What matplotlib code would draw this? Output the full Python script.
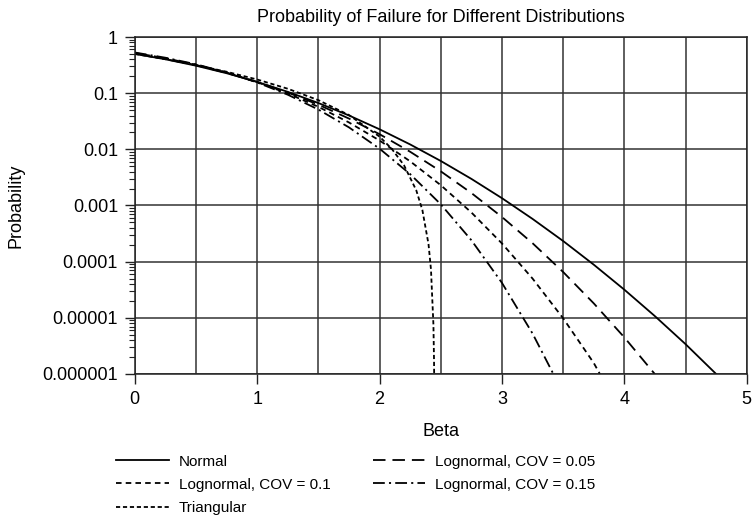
import matplotlib
matplotlib.use("Agg")
import matplotlib.pyplot as plt
from matplotlib.ticker import LogLocator, NullFormatter

plt.rcParams['font.family'] = ['Liberation Sans', 'DejaVu Sans']
plt.rcParams['font.size'] = 13
plt.rcParams['lines.scale_dashes'] = False

# Values (beta vs probability of failure)
beta_normal = [0, 0.25, 0.5, 0.75, 1.0, 1.25, 1.5, 1.75, 2.0, 2.25, 2.5, 2.75,
               3.0, 3.25, 3.5, 3.75, 4.0, 4.25, 4.5, 4.75]
p_normal = [0.5, 0.4013, 0.3085, 0.2266, 0.1587, 0.1056, 0.0668, 0.0401, 0.02275,
            0.01222, 0.00621, 0.00298, 0.00135, 5.77e-4, 2.33e-4, 8.84e-5,
            3.17e-5, 1.07e-5, 3.40e-6, 1.0e-6]

beta_ln05 = [0, 0.25, 0.5, 0.75, 1.0, 1.25, 1.5, 1.75, 2.0, 2.25, 2.5, 2.75,
             3.0, 3.25, 3.5, 3.75, 4.0, 4.25]
p_ln05 = [0.510, 0.4103, 0.3150, 0.2297, 0.1583, 0.1027, 0.0624, 0.0353, 0.0186,
          0.00905, 0.00406, 0.00167, 6.24e-4, 2.13e-4, 6.54e-5, 1.81e-5,
          4.48e-6, 9.9e-7]

beta_ln10 = [0, 0.25, 0.5, 0.75, 1.0, 1.25, 1.5, 1.75, 2.0, 2.25, 2.5, 2.75,
             3.0, 3.25, 3.5, 3.75, 3.8]
p_ln10 = [0.520, 0.4192, 0.3212, 0.2322, 0.1571, 0.0987, 0.0571, 0.0301, 0.01437,
          0.00612, 0.00230, 7.52e-4, 2.11e-4, 5.0e-5, 9.8e-6, 1.57e-6, 1.0e-6]

beta_ln15 = [0, 0.25, 0.5, 0.75, 1.0, 1.25, 1.5, 1.75, 2.0, 2.25, 2.5, 2.75,
             3.0, 3.25, 3.42]
p_ln15 = [0.530, 0.4279, 0.3270, 0.2341, 0.1551, 0.0939, 0.0511, 0.0246, 0.01027,
          0.00362, 0.00105, 2.41e-4, 4.19e-5, 5.25e-6, 1.0e-6]

beta_tri = [0, 0.25, 0.5, 0.75, 1.0, 1.25, 1.5, 1.75, 2.0, 2.1, 2.2, 2.3, 2.35,
            2.4, 2.42, 2.44, 2.445, 2.4475]
p_tri = [0.5, 0.4031, 0.3167, 0.2407, 0.1751, 0.1199, 0.0751, 0.0408, 0.01684,
         0.01018, 0.00519, 0.00186, 8.25e-4, 2.04e-4, 7.26e-5, 7.5e-6, 1.7e-6,
         3.4e-7]

y_ticks = [1, 0.1, 0.01, 0.001, 0.0001, 0.00001, 0.000001]
y_labels = ['1', '0.1', '0.01', '0.001', '0.0001', '0.00001', '0.000001']
x_ticks = [0, 1, 2, 3, 4, 5]

fig = plt.figure(figsize=(7.53, 5.19), dpi=100)
ax = fig.add_axes([0.179, 0.2794, 0.8127, 0.6493])

lw = 1.3
h_norm, = ax.plot(beta_normal, p_normal, color='black', lw=lw, label='Normal')
h_ln05, = ax.plot(beta_ln05, p_ln05, color='black', lw=lw, dashes=(9, 5),
                  label='Lognormal, COV = 0.05')
h_ln10, = ax.plot(beta_ln10, p_ln10, color='black', lw=lw, dashes=(4, 3),
                  label='Lognormal, COV = 0.1')
h_ln15, = ax.plot(beta_ln15, p_ln15, color='black', lw=lw, dashes=(8.5, 3, 1.5, 3),
                  label='Lognormal, COV = 0.15')
h_tri, = ax.plot(beta_tri, p_tri, color='black', lw=lw, dashes=(3, 2),
                 label='Triangular')

ax.set_yscale('log')
ax.set_xlim(0, 5)
ax.set_ylim(1e-6, 1)

ax.set_xticks(x_ticks)
ax.set_xticks([0.5, 1.5, 2.5, 3.5, 4.5], minor=True)
ax.set_yticks(y_ticks)
ax.set_yticklabels(y_labels)
ax.yaxis.set_minor_locator(LogLocator(base=10, subs=range(2, 10), numticks=20))
ax.yaxis.set_minor_formatter(NullFormatter())

ax.tick_params(axis='both', which='major', direction='out', length=7, width=1,
               color='#222222', pad=5)
ax.tick_params(axis='x', which='minor', length=0)
ax.tick_params(axis='y', which='minor', direction='out', length=4, width=0.8,
               color='#222222')

ax.grid(True, axis='y', which='major', color='#333333', lw=1.1)
ax.grid(True, axis='x', which='both', color='#333333', lw=1.1)
for s in ax.spines.values():
    s.set_color('#222222')
    s.set_linewidth(1.1)

ax.set_title('Probability of Failure for Different Distributions', fontsize=13, pad=11)
ax.set_xlabel('Beta', fontsize=13, labelpad=11)
ax.set_ylabel('Probability', fontsize=13, labelpad=13)

fig.legend(handles=[h_norm, h_ln10, h_tri, h_ln05, h_ln15], ncol=2,
           loc='upper left', bbox_to_anchor=(0.154, 0.124), frameon=False,
           borderpad=0, borderaxespad=0, handlelength=3.46, handletextpad=0.65,
           columnspacing=2.75, labelspacing=0.6, fontsize=11)

fig.savefig('out.png', dpi=100)
